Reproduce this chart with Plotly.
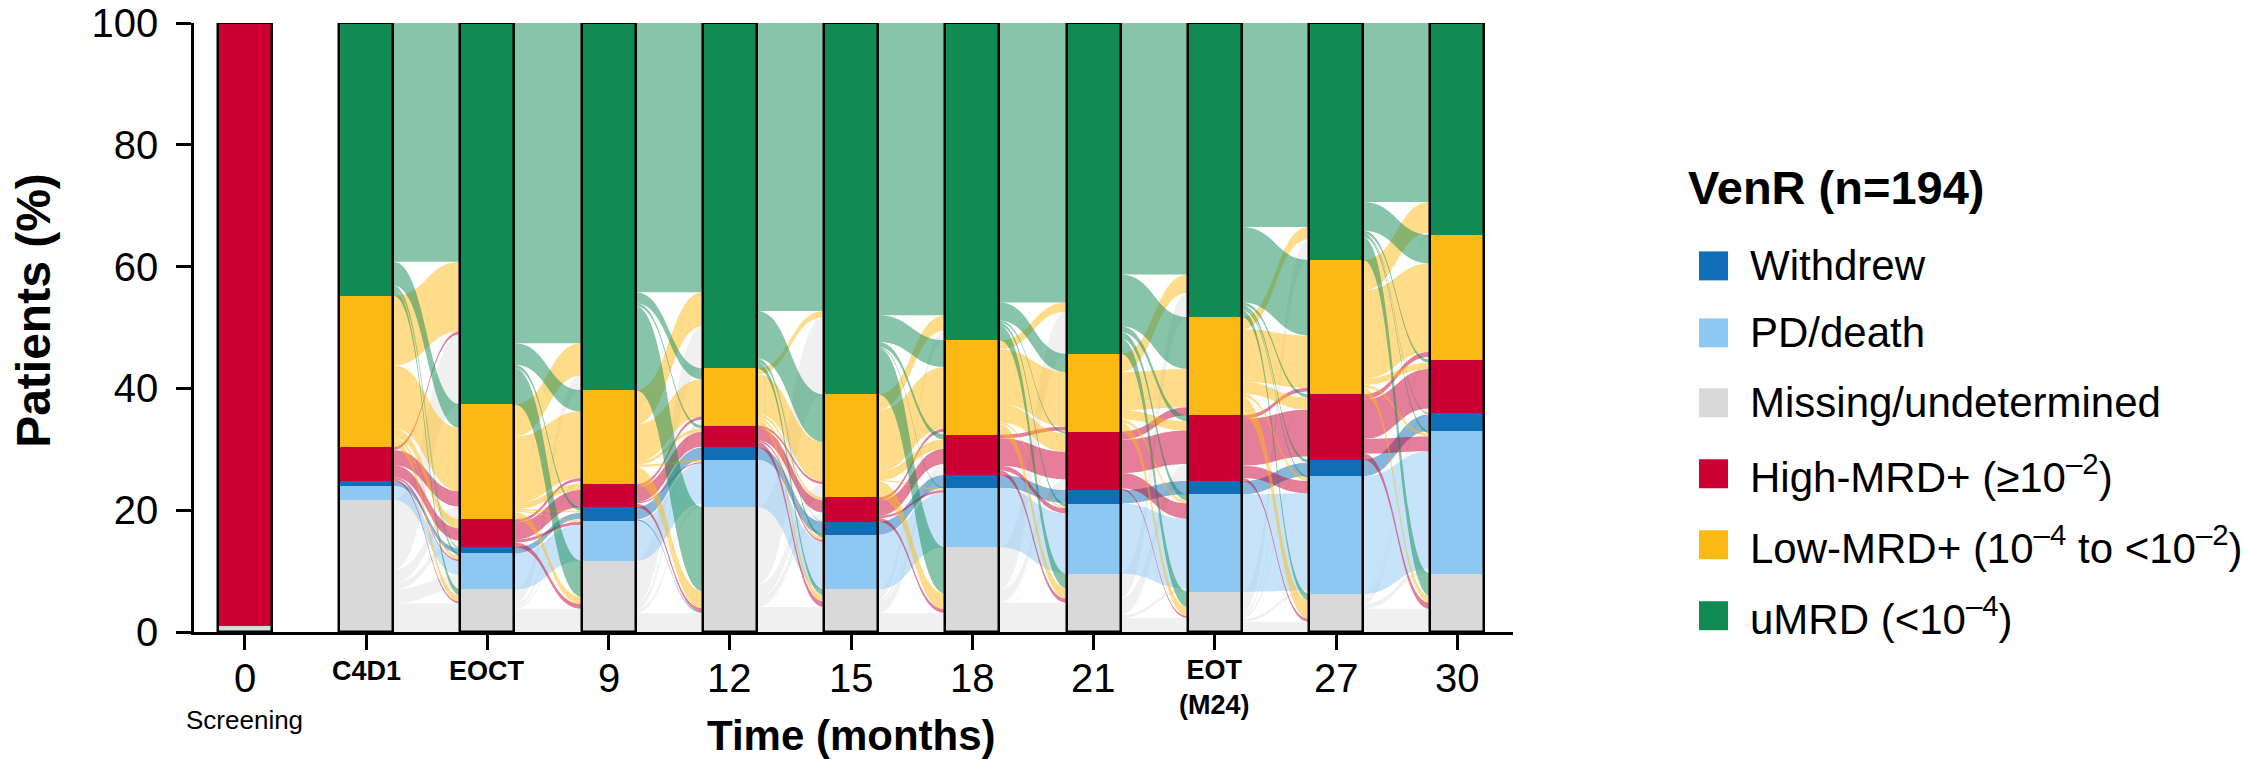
import plotly.graph_objects as go

# ---------------- data ----------------
timepoints = ["0", "C4D1", "EOCT", "9", "12", "15", "18", "21", "EOT (M24)", "27", "30"]

# bar segments (% of patients), one value per timepoint
umrd     = [0.0, 44.8, 62.6, 60.3, 56.7, 61.0, 52.1, 54.3, 48.3, 38.9, 34.8]
low_mrd  = [0.0, 24.8, 18.9, 15.4,  9.4, 16.9, 15.5, 12.8, 16.1, 22.1, 20.5]
high_mrd = [99.0, 5.6,  4.6,  3.8,  3.6,  4.0,  6.6,  9.6, 10.8, 10.7,  8.8]
withdrew = [0.0,  0.8,  1.0,  2.2,  2.0,  2.1,  2.1,  2.2,  2.2,  2.7,  2.9]
pd_death = [0.0,  2.3,  5.9,  6.6,  7.8,  9.0,  9.8, 11.5, 16.0, 19.3, 23.4]
missing  = [1.0, 21.7,  7.0, 11.7, 20.5,  7.0, 13.9,  9.6,  6.6,  6.3,  9.6]

# transitions between consecutive timepoints (rows: from, cols: to),
# order uMRD, Low, High, Withdrew, PD/death, Missing
flows_c4d1_eoct = [[39.2, 3.9, 0.0, 0.2, 0.5, 1.0],
                   [11.4, 10.4, 1.5, 0.0, 0.5, 1.0],
                   [0.5, 2.5, 2.0, 0.0, 0.3, 0.3],
                   [0.0, 0.0, 0.0, 0.8, 0.0, 0.0],
                   [0.0, 0.0, 0.0, 0.0, 2.3, 0.0],
                   [11.5, 2.1, 1.1, 0.0, 2.3, 4.7]]
flows_eoct_9 = [[52.6, 3.5, 0.0, 0.6, 0.0, 5.9],
                [5.3, 10.9, 1.0, 0.3, 0.2, 1.2],
                [0.0, 0.5, 2.8, 0.0, 0.5, 0.8],
                [0.0, 0.0, 0.0, 1.0, 0.0, 0.0],
                [0.0, 0.0, 0.0, 0.0, 5.9, 0.0],
                [2.4, 0.5, 0.0, 0.3, 0.0, 3.8]]
flows_9_12 = [[44.2, 1.8, 0.5, 0.0, 0.0, 13.8],
              [5.6, 6.1, 0.5, 0.0, 0.4, 2.8],
              [0.0, 0.5, 2.5, 0.0, 0.2, 0.6],
              [0.0, 0.0, 0.0, 2.0, 0.0, 0.2],
              [0.0, 0.0, 0.0, 0.0, 6.6, 0.0],
              [6.9, 1.0, 0.1, 0.0, 0.6, 3.1]]
flows_12_15 = [[47.3, 7.8, 0.0, 0.1, 0.5, 1.0],
               [1.0, 6.5, 0.5, 0.0, 0.4, 1.0],
               [0.0, 0.4, 2.0, 0.0, 0.3, 0.9],
               [0.0, 0.0, 0.0, 2.0, 0.0, 0.0],
               [0.0, 0.0, 0.0, 0.0, 7.8, 0.0],
               [12.7, 2.2, 1.5, 0.0, 0.0, 4.1]]
flows_15_18 = [[48.0, 4.4, 0.8, 0.0, 0.2, 7.6],
               [2.5, 10.1, 1.5, 0.0, 0.2, 2.6],
               [0.0, 0.5, 2.5, 0.0, 0.4, 0.6],
               [0.0, 0.0, 0.0, 2.1, 0.0, 0.0],
               [0.0, 0.0, 0.0, 0.0, 9.0, 0.0],
               [1.6, 0.5, 1.8, 0.0, 0.0, 3.1]]
flows_18_21 = [[45.9, 3.0, 0.3, 0.0, 0.5, 2.4],
               [1.5, 9.0, 3.0, 0.0, 0.3, 1.7],
               [0.0, 0.6, 4.5, 0.0, 0.8, 0.7],
               [0.0, 0.0, 0.0, 2.1, 0.0, 0.0],
               [0.0, 0.0, 0.0, 0.0, 9.8, 0.0],
               [6.9, 0.2, 1.8, 0.1, 0.1, 4.8]]
flows_21_eot = [[41.3, 8.5, 1.0, 0.0, 1.0, 2.5],
                [3.0, 6.3, 1.5, 0.0, 0.5, 1.5],
                [0.0, 1.3, 5.5, 0.0, 2.5, 0.3],
                [0.0, 0.0, 0.0, 2.2, 0.0, 0.0],
                [0.0, 0.0, 0.0, 0.0, 11.5, 0.0],
                [4.0, 0.0, 2.8, 0.0, 0.5, 2.3]]
flows_eot_27 = [[33.5, 12.4, 0.5, 0.5, 0.3, 1.1],
                [2.0, 8.6, 2.0, 0.0, 0.5, 3.0],
                [0.0, 0.6, 7.7, 0.0, 2.0, 0.5],
                [0.0, 0.0, 0.0, 2.2, 0.0, 0.0],
                [0.0, 0.0, 0.0, 0.0, 16.0, 0.0],
                [3.4, 0.5, 0.5, 0.0, 0.5, 1.7]]
flows_27_30 = [[29.4, 4.7, 0.5, 0.2, 0.4, 3.7],
               [5.0, 14.5, 1.0, 0.0, 0.5, 1.1],
               [0.0, 0.8, 6.5, 0.0, 2.4, 1.0],
               [0.0, 0.0, 0.0, 2.7, 0.0, 0.0],
               [0.0, 0.0, 0.0, 0.0, 19.3, 0.0],
               [0.4, 0.5, 0.8, 0.0, 0.8, 3.8]]
interval_flows = [(1, flows_c4d1_eoct), (2, flows_eoct_9), (3, flows_9_12), (4, flows_12_15),
                  (5, flows_15_18), (6, flows_18_21), (7, flows_21_eot), (8, flows_eot_27),
                  (9, flows_27_30)]

legend_title = "VenR (n=194)"
legend_labels = ["Withdrew", "PD/death", "Missing/undetermined",
                 "High-MRD+ (≥10<sup>–2</sup>)", "Low-MRD+ (10<sup>–4</sup> to <10<sup>–2</sup>)",
                 "uMRD (<10<sup>–4</sup>)"]

# ---------------- style ----------------
FONT = "Liberation Sans, Arial, sans-serif"
col = {"G": "#118A54", "L": "#FDB913", "H": "#CC0033", "W": "#0F6EB5", "P": "#8DC8F3", "M": "#D9D9D9"}
rib = {"G": "rgba(17,138,84,0.5)", "L": "rgba(253,185,19,0.5)", "H": "rgba(204,0,51,0.5)",
       "W": "rgba(15,110,181,0.5)", "P": "rgba(141,200,243,0.5)", "M": "rgba(225,225,225,0.5)"}
keys = ["G", "L", "H", "W", "P", "M"]           # top -> bottom
seg = {"G": umrd, "L": low_mrd, "H": high_mrd, "W": withdrew, "P": pd_death, "M": missing}
BW = 0.445
xs = list(range(len(timepoints)))

fig = go.Figure()

# stacked bar segments (bottom -> top)
stack_order = ["M", "P", "W", "H", "L", "G"]
bases = [0.0] * len(xs)
tops = {}
for k in stack_order:
    vals = seg[k]
    fig.add_trace(go.Bar(x=xs, y=vals, base=list(bases), width=BW, marker_color=col[k],
                         marker_line_width=0, showlegend=False, hoverinfo="skip", cliponaxis=False))
    bases = [b + v for b, v in zip(bases, vals)]
    tops[k] = list(bases)

# outline of each bar
fig.add_trace(go.Bar(x=xs, y=[100] * len(xs), base=[0] * len(xs), width=BW,
                     marker_color="rgba(0,0,0,0)", marker_line_color="black", marker_line_width=2.5,
                     showlegend=False, hoverinfo="skip", cliponaxis=False))

# flows as ribbons
shapes = []
draw_order = [5, 4, 3, 2, 1, 0]
for src_idx, mat in interval_flows:
    dst_idx = src_idx + 1
    x0 = src_idx + BW / 2
    x1 = dst_idx - BW / 2
    xm = (x0 + x1) / 2
    src_pos = {}
    for i, ki in enumerate(keys):
        y = tops[ki][src_idx]
        for j in range(6):
            v = mat[i][j]
            src_pos[(i, j)] = (y, y - v)
            y -= v
    dst_pos = {}
    for j, kj in enumerate(keys):
        y = tops[kj][dst_idx]
        for i in range(6):
            v = mat[i][j]
            dst_pos[(i, j)] = (y, y - v)
            y -= v
    for i in draw_order:
        for j in range(6):
            if mat[i][j] <= 0:
                continue
            a, c = src_pos[(i, j)]
            b, d = dst_pos[(i, j)]
            path = (f"M {x0},{a} C {xm},{a} {xm},{b} {x1},{b} L {x1},{d} "
                    f"C {xm},{d} {xm},{c} {x0},{c} Z")
            shapes.append(dict(type="path", path=path, xref="x", yref="y", layer="below",
                               fillcolor=rib[keys[i]], line=dict(width=0)))

# ---------------- geometry helpers (pixel -> paper) ----------------
PL, PW, PT, PH = 194, 1319, 23, 609.3
PB = PT + PH
def px(xp):
    return (xp - PL) / PW
def py(yp):
    return (PB - yp) / PH

# ---------------- axis labels ----------------
ann = []
for x, t in zip(xs, timepoints):
    if t in ("C4D1", "EOCT"):
        ann.append(dict(x=x, y=py(671), text=f"<b>{t}</b>", font=dict(size=27)))
    elif t.startswith("EOT"):
        ann.append(dict(x=x, y=py(688), text="<b>EOT<br>(M24)</b>", font=dict(size=27)))
    else:
        ann.append(dict(x=x, y=py(678), text=t, font=dict(size=40)))
ann.append(dict(x=0, y=py(720), text="Screening", font=dict(size=26)))
ann.append(dict(x=5.0, y=py(736), text="<b>Time (months)</b>", font=dict(size=42)))
for a in ann:
    a.update(xref="x", yref="paper", showarrow=False, xanchor="center", yanchor="middle")
    a["font"].update(family=FONT, color="black")
ann.append(dict(x=px(34), y=py(311), xref="paper", yref="paper", text="<b>Patients (%)</b>",
                textangle=-90, showarrow=False, xanchor="center", yanchor="middle",
                font=dict(size=48, family=FONT, color="black")))

# ---------------- legend (manual) ----------------
ann.append(dict(x=px(1686), y=py(188), xref="paper", yref="paper", text=f"<b>{legend_title}</b>",
                showarrow=False, xanchor="left", yanchor="middle",
                font=dict(size=47, family=FONT, color="black")))
leg_keys = ["W", "P", "M", "H", "L", "G"]
leg_y = [266, 333, 403, 474, 545, 616]
for k, lab, yy in zip(leg_keys, legend_labels, leg_y):
    shapes.append(dict(type="rect", xref="paper", yref="paper", x0=px(1699), x1=px(1728),
                       y0=py(yy + 14.5), y1=py(yy - 14.5), fillcolor=col[k], line=dict(width=0)))
    ann.append(dict(x=px(1748), y=py(yy), xref="paper", yref="paper", text=lab, showarrow=False,
                    xanchor="left", yanchor="middle", font=dict(size=42, family=FONT, color="black")))

fig.update_layout(
    width=2266, height=759,
    margin=dict(l=PL, r=2266 - PL - PW, t=PT, b=759 - PT - 609, pad=0, autoexpand=False),
    paper_bgcolor="white", plot_bgcolor="white",
    barmode="overlay", bargap=0,
    showlegend=False, hovermode=False,
    shapes=shapes, annotations=ann,
    font=dict(family=FONT, color="black"),
    xaxis=dict(range=[-0.42, 10.46], tickvals=xs, showticklabels=False, ticks="outside",
               ticklen=15, tickwidth=2.5, tickcolor="black", showline=True, linecolor="black",
               linewidth=2.5, showgrid=False, zeroline=False, fixedrange=True, automargin=False),
    yaxis=dict(range=[0, 100], tickvals=[0, 20, 40, 60, 80, 100], ticks="outside", ticklen=15,
               tickwidth=2.5, tickcolor="black", showline=True, linecolor="black", linewidth=2.5,
               showgrid=False, zeroline=False, tickfont=dict(size=40, family=FONT, color="black"),
               ticklabelstandoff=10, fixedrange=True, automargin=False),
)

fig.write_html("out.html", config={"displayModeBar": False},
               post_script="document.body.style.margin='0px';document.body.style.padding='0px';")
